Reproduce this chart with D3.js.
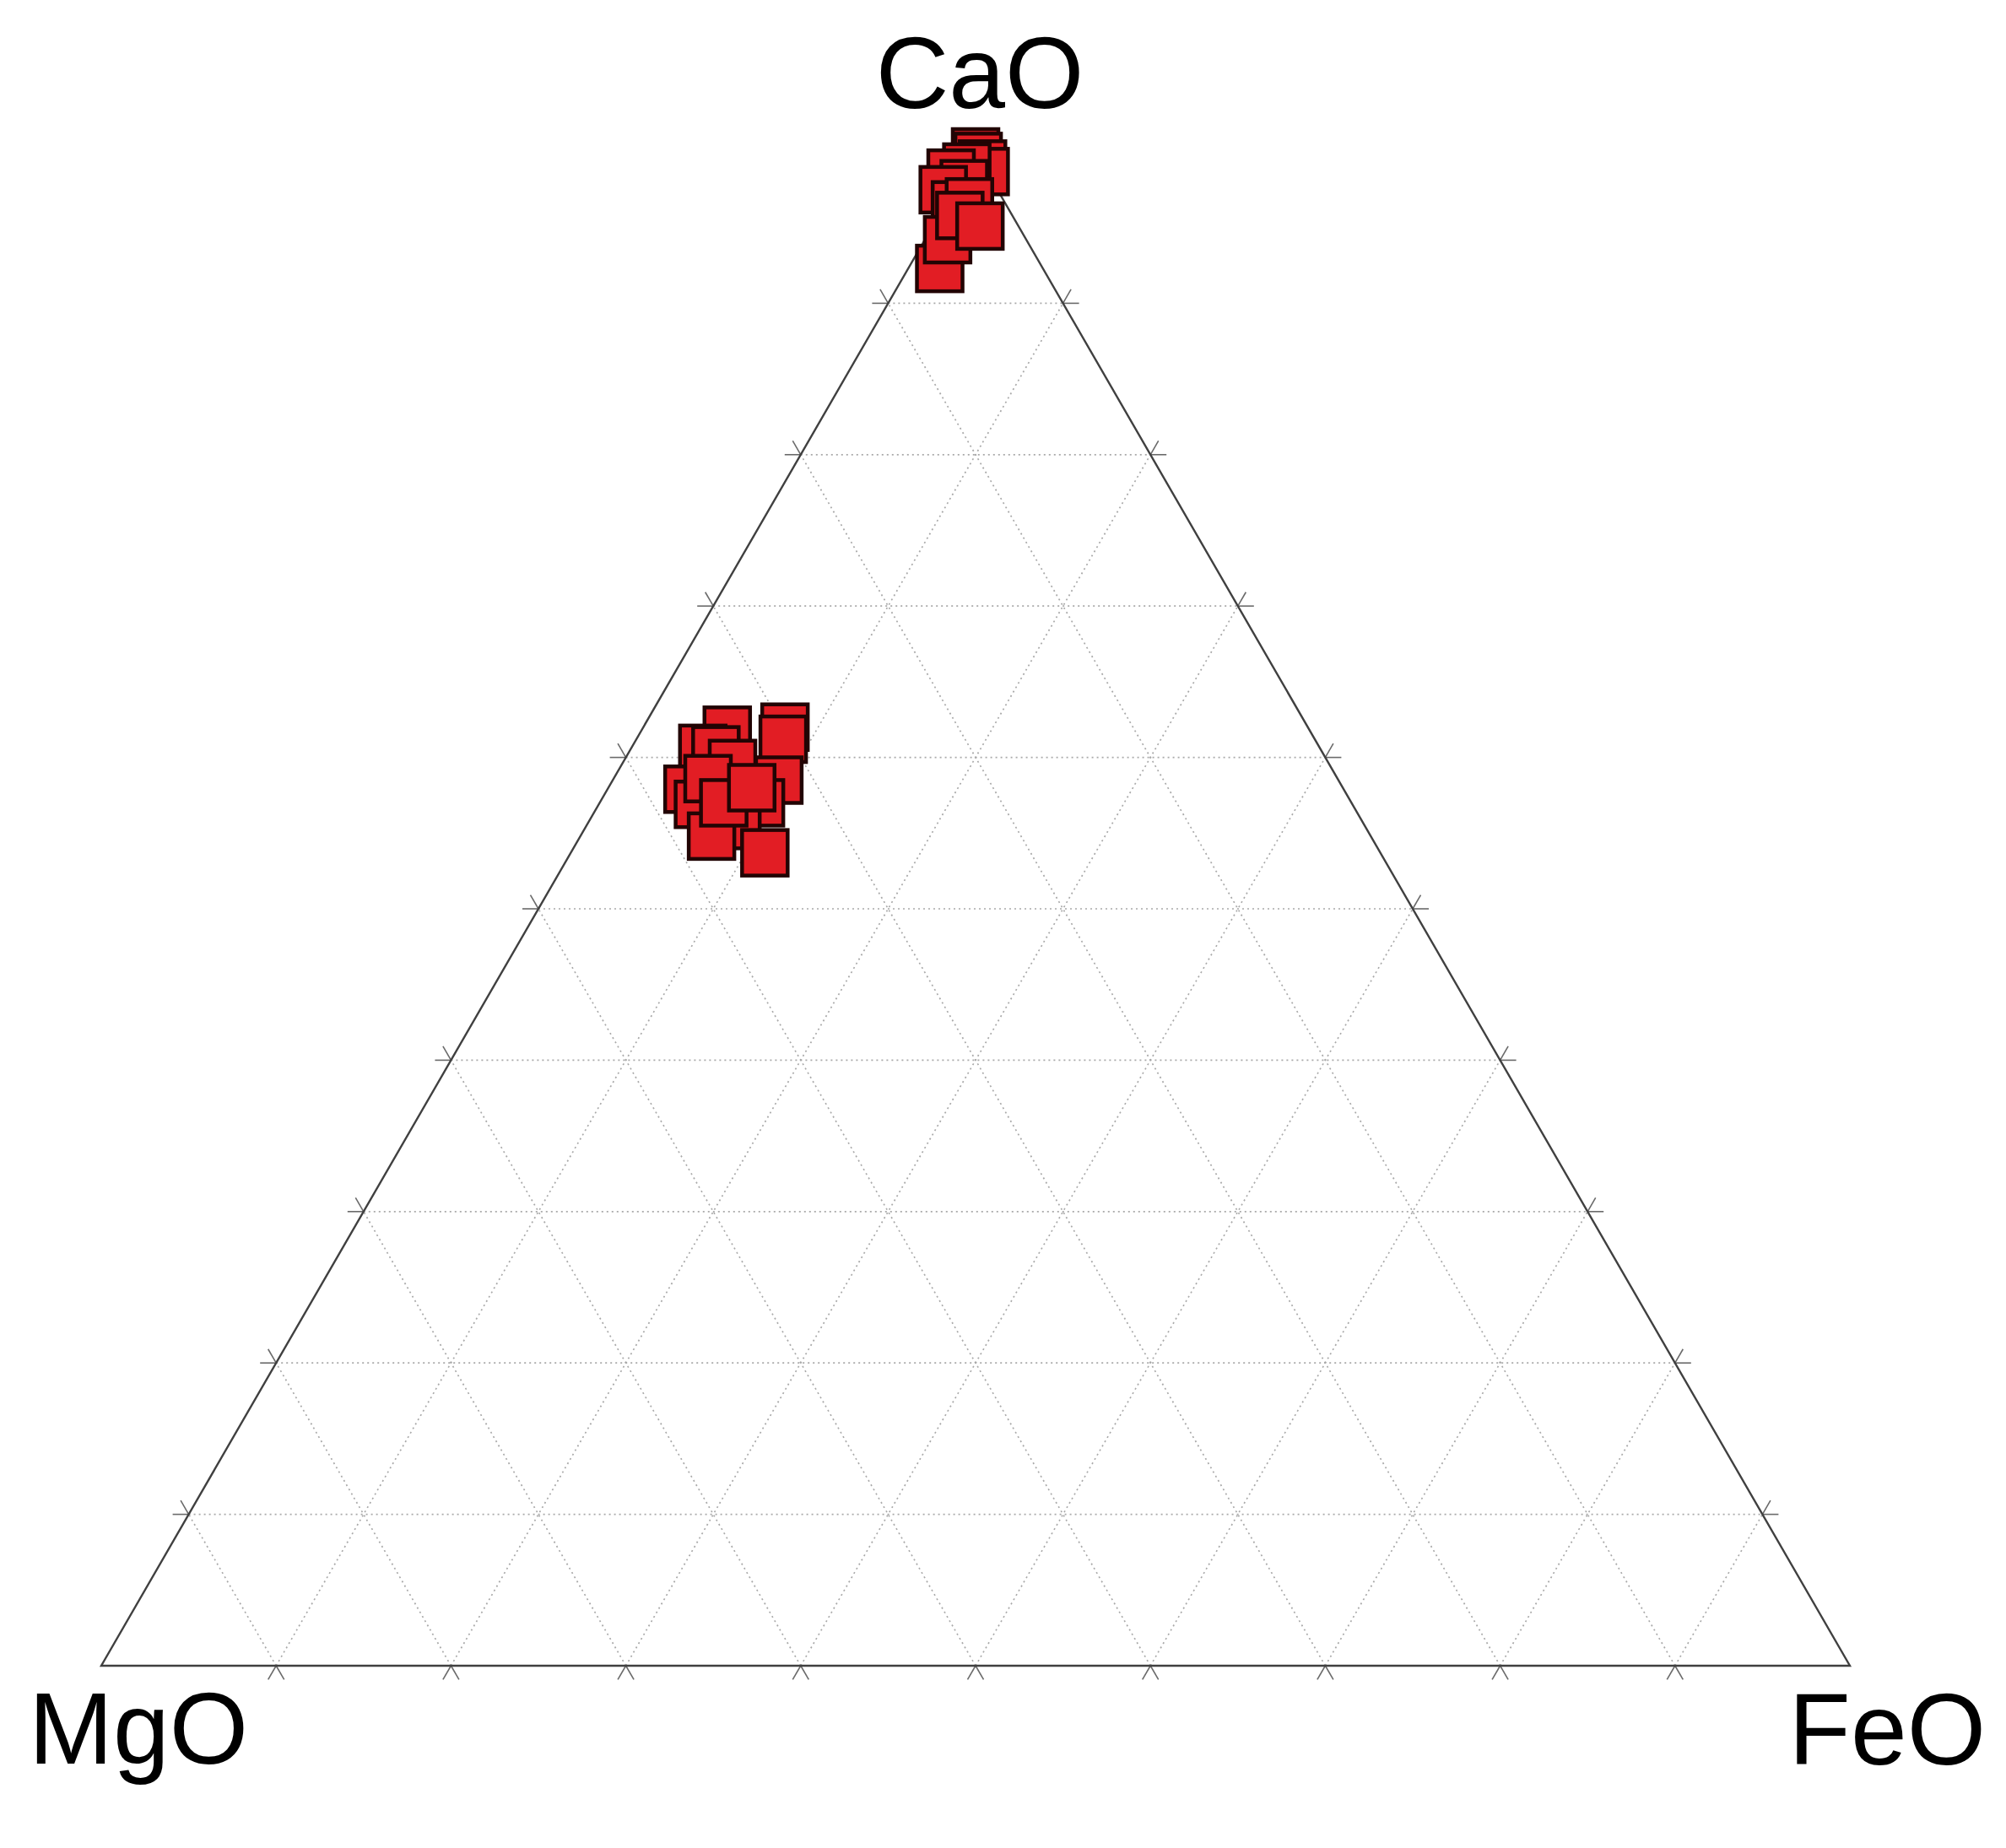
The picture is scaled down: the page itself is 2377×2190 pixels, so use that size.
<!DOCTYPE html>
<html>
<head>
<meta charset="utf-8">
<script src="https://cdn.jsdelivr.net/npm/d3@7"></script>
<style>
  html, body { margin: 0; padding: 0; background: #ffffff; }
  svg { display: block; }
</style>
</head>
<body>
<script>
// ---- Data (wt% oxides) ----
const axisLabels = ["CaO", "MgO", "FeO"];
const gridTicks = [10, 20, 30, 40, 50, 60, 70, 80, 90];

// Sample compositions (drawing order)
const sampleCaO = [100.0, 99.7, 99.2, 98.7, 99.0, 98.6, 97.9, 97.5, 96.5, 96.7, 92.3, 94.2, 95.8, 95.1,
                   62.0, 61.2, 61.8, 60.6, 60.5, 59.6, 58.5, 57.9, 56.9, 58.6, 57.0, 55.5, 54.8, 57.0, 58.0, 53.7];
const sampleMgO = [0.0, 0.0, 0.0, 0.1, 1.0, 2.1, 1.7, 3.1, 2.9, 2.0, 5.9, 4.5, 3.0, 2.2,
                   29.9, 30.4, 33.3, 35.3, 34.6, 34.1, 32.0, 37.5, 37.4, 36.0, 33.8, 35.9, 37.7, 35.9, 33.8, 35.2];
const sampleFeO = [0.0, 0.3, 0.8, 1.2, 0.0, -0.7, 0.4, -0.6, 0.6, 1.3, 1.8, 1.3, 1.2, 2.7,
                   8.1, 8.4, 4.9, 4.1, 4.9, 6.3, 9.5, 4.6, 5.7, 5.4, 9.2, 8.6, 7.5, 7.1, 8.2, 11.1];

// ---- Layout ----
const W = 2377, H = 2190;
const xScale = d3.scaleLinear().domain([0, 1]).range([120, 2192]);   // horizontal ternary coordinate
const yScale = d3.scaleLinear().domain([0, 1]).range([1974, 180]);   // CaO fraction

// project (CaO, MgO, FeO) fractions onto the plane
function proj(c, m, f) {
  const t = c + m + f;
  c /= t; f /= t;
  return [xScale(f + c / 2), yScale(c)];
}

const svg = d3.select("body").append("svg")
  .attr("width", W).attr("height", H)
  .attr("viewBox", `0 0 ${W} ${H}`);

svg.append("rect").attr("width", W).attr("height", H).attr("fill", "#ffffff");

const gGrid = svg.append("g");
const gTicks = svg.append("g");

const tickLen = 19;
const line = d3.line();

gridTicks.forEach(v => {
  const p = v / 100;
  // constant CaO (horizontal)
  const a1 = proj(p, 1 - p, 0), a2 = proj(p, 0, 1 - p);
  // constant FeO (parallel to MgO-CaO edge)
  const b1 = proj(0, 1 - p, p), b2 = proj(1 - p, 0, p);
  // constant MgO (parallel to FeO-CaO edge)
  const c1 = proj(0, p, 1 - p), c2 = proj(1 - p, p, 0);
  [[a1, a2], [b1, b2], [c1, c2]].forEach(seg => {
    gGrid.append("path")
      .attr("d", line(seg))
      .attr("fill", "none")
      .attr("stroke", "#a9a9a9")
      .attr("stroke-width", 1.7)
      .attr("stroke-dasharray", "2,4");
  });
  // ticks: short extensions of grid lines beyond the edges
  function ext(from, to) {
    const dx = to[0] - from[0], dy = to[1] - from[1];
    const L = Math.hypot(dx, dy);
    return [to, [to[0] + dx / L * tickLen, to[1] + dy / L * tickLen]];
  }
  [ext(a2, a1), ext(a1, a2), ext(b2, b1), ext(b1, b2), ext(c2, c1), ext(c1, c2)].forEach(seg => {
    gTicks.append("path")
      .attr("d", line(seg))
      .attr("fill", "none")
      .attr("stroke", "#6a6a6a")
      .attr("stroke-width", 1.6);
  });
});

// triangle outline
const vC = proj(1, 0, 0), vM = proj(0, 1, 0), vF = proj(0, 0, 1);
svg.append("path")
  .attr("d", line([vM, vF, vC]) + "Z")
  .attr("fill", "none")
  .attr("stroke", "#404040")
  .attr("stroke-width", 2.4)
  .attr("stroke-linejoin", "miter");

// samples
const side = 54;
const pts = sampleCaO.map((c, i) => proj(c, sampleMgO[i], sampleFeO[i]));
svg.append("g").selectAll("rect")
  .data(pts)
  .join("rect")
  .attr("x", d => d[0] - side / 2)
  .attr("y", d => d[1] - side / 2)
  .attr("width", side)
  .attr("height", side)
  .attr("fill", "#e21d24")
  .attr("stroke", "#220404")
  .attr("stroke-width", 4.5);

// vertex labels
const font = "'Liberation Sans', Arial, sans-serif";
svg.append("text").text(axisLabels[0])
  .attr("x", 1161).attr("y", 128)
  .attr("text-anchor", "middle")
  .attr("font-family", font).attr("font-size", 120).attr("fill", "#000");
svg.append("text").text(axisLabels[1])
  .attr("x", 34).attr("y", 2090)
  .attr("text-anchor", "start")
  .attr("font-family", font).attr("font-size", 120).attr("fill", "#000");
svg.append("text").text(axisLabels[2])
  .attr("x", 2353).attr("y", 2091)
  .attr("text-anchor", "end")
  .attr("font-family", font).attr("font-size", 120).attr("fill", "#000");
</script>
</body>
</html>
